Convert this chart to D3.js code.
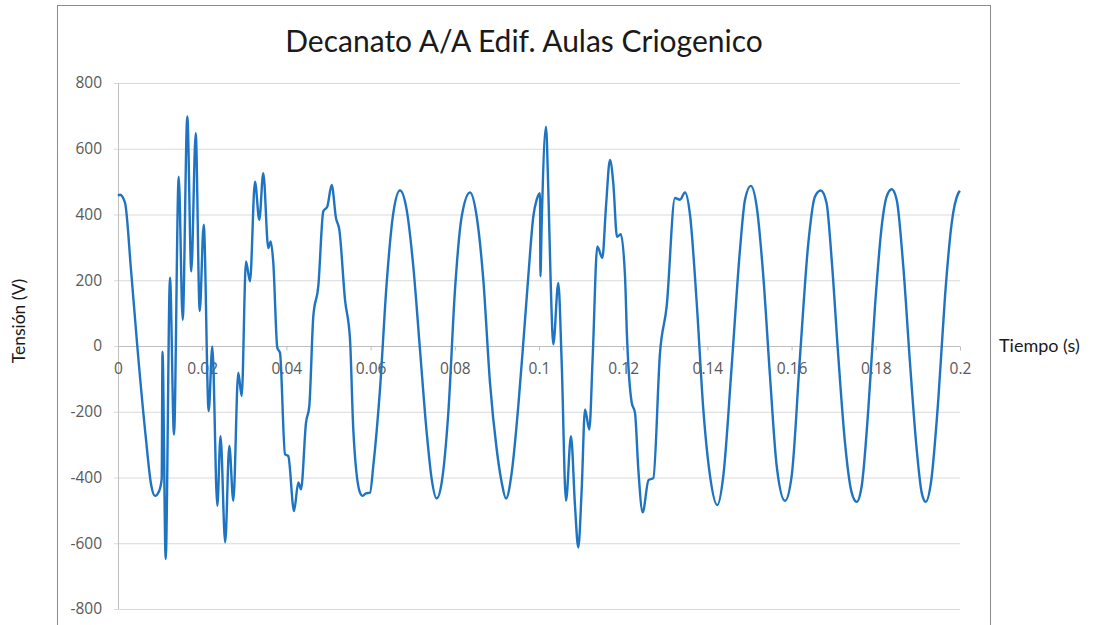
<!DOCTYPE html>
<html>
<head>
<meta charset="utf-8">
<script src="https://cdn.jsdelivr.net/npm/d3@7"></script>
<style>
  body { margin: 0; background: #fff; }
  svg { display: block; font-family: "Open Sans", "Liberation Sans", sans-serif; }
</style>
</head>
<body>
<svg width="1094" height="625"></svg>
<script>
// time (s) and tension (V)
const tiempo = [
  0, 0.00048, 0.00166, 0.00309, 0.00458, 0.00665, 0.00784, 0.00879, 0.00974, 0.01038,
  0.01057, 0.01133, 0.01235, 0.0133, 0.01442, 0.01537, 0.01646, 0.01741, 0.01846, 0.01941,
  0.02036, 0.02154, 0.0224, 0.02359, 0.02435, 0.02546, 0.02644, 0.02739, 0.02857, 0.02938,
  0.0304, 0.03135, 0.03254, 0.03356, 0.03451, 0.0357, 0.03627, 0.03689, 0.03784, 0.03848,
  0.03967, 0.04045, 0.04181, 0.04283, 0.04347, 0.04466, 0.04544, 0.04639, 0.04758, 0.04876,
  0.04971, 0.05076, 0.05178, 0.05257, 0.05392, 0.05511, 0.05589, 0.05748, 0.05812, 0.05891,
  0.05986, 0.06064, 0.06223, 0.06382, 0.06539, 0.06698, 0.06857, 0.07014, 0.07173, 0.07333,
  0.07451, 0.0757, 0.07689, 0.07846, 0.08005, 0.08164, 0.08361, 0.0852, 0.08677, 0.08836,
  0.08995, 0.09114, 0.09216, 0.09352, 0.09508, 0.09627, 0.09746, 0.09865, 0.09945, 0.10024,
  0.10033, 0.10064, 0.10166, 0.10221, 0.10278, 0.1034, 0.10458, 0.10539, 0.10641, 0.1076,
  0.10855, 0.10933, 0.11014, 0.11093, 0.11195, 0.11276, 0.11385, 0.11504, 0.11591, 0.11686,
  0.11765, 0.11853, 0.11943, 0.12043, 0.1209, 0.12202, 0.1228, 0.12359, 0.12463, 0.12601,
  0.12715, 0.12874, 0.13033, 0.1323, 0.13349, 0.13468, 0.13587, 0.13746, 0.13903, 0.14062,
  0.14235, 0.14378, 0.14577, 0.14774, 0.14893, 0.15029, 0.15171, 0.15328, 0.15487, 0.15646,
  0.15843, 0.16002, 0.162, 0.16397, 0.16556, 0.16691, 0.16829, 0.16952, 0.17109, 0.17268,
  0.17427, 0.17546, 0.17665, 0.17822, 0.17981, 0.1814, 0.18259, 0.18378, 0.18496, 0.18653,
  0.18812, 0.18971, 0.1909, 0.19185, 0.19311, 0.19485, 0.19644, 0.19803, 0.1996, 0.2
];
const tension = [
  457, 460, 436, 232, 0, -284, -420, -456, -442, -405,
  -17, -648, 208, -269, 515, 80, 698, 227, 647, 106,
  369, -198, -1, -486, -274, -597, -304, -471, -81, -152,
  257, 197, 500, 384, 526, 298, 318, 253, -5, -21,
  -329, -335, -502, -415, -436, -233, -183, 90, 182, 409,
  424, 490, 389, 354, 141, 20, -254, -446, -456, -448,
  -446, -365, -132, 192, 404, 473, 414, 242, -11, -264,
  -405, -464, -415, -203, 172, 394, 467, 394, 202, -112,
  -314, -415, -464, -385, -183, 10, 212, 394, 445, 465,
  212, 374, 667, 475, 192, 5, 192, -51, -471, -274,
  -486, -613, -436, -193, -254, -31, 303, 268, 424, 566,
  495, 332, 340, 212, 30, -172, -203, -375, -506, -408,
  -402, -21, 121, 450, 445, 467, 399, 132, -193, -395,
  -484, -395, -61, 293, 445, 487, 424, 212, -92, -365,
  -471, -395, -31, 313, 455, 473, 436, 263, -31, -294,
  -446, -474, -426, -193, 121, 364, 455, 477, 445, 242,
  -51, -314, -446, -474, -415, -162, 151, 374, 465, 472
];
const xTicks = [0, 0.02, 0.04, 0.06, 0.08, 0.1, 0.12, 0.14, 0.16, 0.18, 0.2];
const xTickLabels = ["0", "0.02", "0.04", "0.06", "0.08", "0.1", "0.12", "0.14", "0.16", "0.18", "0.2"];
const yTicks = [-800, -600, -400, -200, 0, 200, 400, 600, 800];

const svg = d3.select('svg');

// chart frame
svg.append('rect')
  .attr('x', 57.5).attr('y', 5.5)
  .attr('width', 933).attr('height', 640)
  .attr('fill', '#fff').attr('stroke', '#8c8c8c').attr('stroke-width', 1);

const x = d3.scaleLinear().domain([0, 0.2]).range([118, 960]);
const y = d3.scaleLinear().domain([-800, 800]).range([609, 83]);

// horizontal gridlines + y ticks
const yAxis = svg.append('g')
  .attr('transform', 'translate(118,0)')
  .call(d3.axisLeft(y).tickValues(yTicks).tickSize(4).tickPadding(12)
    .tickFormat(d => String(d)));
yAxis.select('.domain').remove();
yAxis.selectAll('.tick line').attr('x2', 842).attr('x1', -4).attr('stroke', '#d9d9d9');
yAxis.selectAll('.tick text')
  .attr('fill', '#595959').style('font-size', '15.5px')
  .style('font-family', '"Open Sans", sans-serif');

// y axis line
svg.append('line')
  .attr('x1', 118.5).attr('x2', 118.5).attr('y1', y(800)).attr('y2', y(-800))
  .attr('stroke', '#bfbfbf');

// x axis sitting on zero
const xAxis = svg.append('g')
  .attr('transform', 'translate(0,' + (y(0) + 0.5) + ')')
  .call(d3.axisBottom(x).tickValues(xTicks).tickSize(4).tickPadding(12)
    .tickFormat((d, i) => xTickLabels[i]));
xAxis.select('.domain').attr('stroke', '#bfbfbf').attr('d', 'M118,0H960');
xAxis.selectAll('.tick line').attr('stroke', '#bfbfbf');
xAxis.selectAll('.tick text')
  .attr('fill', '#595959').style('font-size', '15.5px')
  .style('font-family', '"Open Sans", sans-serif');

// series line
const pts = tiempo.map((t, i) => [t, tension[i]]);
svg.append('path')
  .datum(pts)
  .attr('fill', 'none')
  .attr('stroke', '#1f74c2')
  .attr('stroke-width', 2.4)
  .attr('stroke-linejoin', 'round')
  .attr('d', d3.line().x(d => x(d[0])).y(d => y(d[1])).curve(d3.curveMonotoneX));

// title
svg.append('text')
  .attr('x', 524).attr('y', 52)
  .attr('text-anchor', 'middle')
  .style('font-family', 'Lato, sans-serif')
  .style('font-size', '30px')
  .attr('fill', '#1a1a1a')
  .text('Decanato A/A Edif. Aulas Criogenico');

// axis titles
svg.append('text')
  .attr('x', 999).attr('y', 352)
  .style('font-family', 'Lato, sans-serif')
  .style('font-size', '18px')
  .attr('fill', '#1a1a1a')
  .text('Tiempo (s)');

svg.append('text')
  .attr('transform', 'translate(25,321) rotate(-90)')
  .attr('text-anchor', 'middle')
  .style('font-family', 'Lato, sans-serif')
  .style('font-size', '17.5px')
  .attr('fill', '#1a1a1a')
  .text('Tensión (V)');
</script>
</body>
</html>
